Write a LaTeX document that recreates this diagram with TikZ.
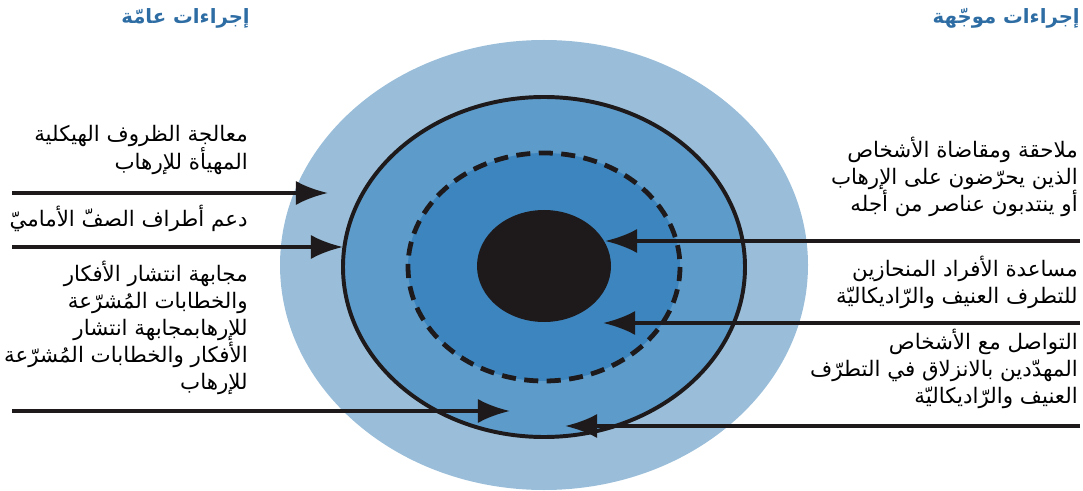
\documentclass[tikz,border=0pt]{standalone}
\usepackage{fontspec}
\newfontfamily\arabicfont[Script=Arabic]{DejaVu Sans}
\TeXXeTstate=1
\usetikzlibrary{arrows.meta}

\definecolor{ringouter}{HTML}{9ABED9}
\definecolor{ringmiddle}{HTML}{5D9BCB}
\definecolor{ringinner}{HTML}{3D85BF}
\definecolor{titleblue}{HTML}{2E6DA4}
\definecolor{inkblack}{HTML}{1E1A1B}

\begin{document}
\begin{tikzpicture}[
    x=0.025cm, y=-0.025cm,
    ring_outer/.style={fill=ringouter},
    ring_middle/.style={fill=ringmiddle, draw=inkblack, line width=2.8pt},
    ring_inner/.style={fill=ringinner, draw=inkblack, line width=3.4pt, dash pattern=on 10pt off 6pt},
    core/.style={fill=inkblack},
    push/.style={draw=inkblack, line width=2.8pt, -{Latex[length=8mm, width=6mm]}},
    txt/.style={font=\arabicfont\fontsize{15.2}{19.3}\selectfont, align=right, anchor=east, inner sep=0pt},
    head/.style={font=\arabicfont\bfseries\fontsize{14}{16}\selectfont, text=titleblue, anchor=east, inner sep=0pt}
]
\useasboundingbox (0,0) rectangle (1083,491);

% --- Anillos ---
\fill[ring_outer] (544,265) ellipse [x radius=264, y radius=225];
\draw[ring_middle] (544,267) ellipse [x radius=201, y radius=170];
\draw[ring_inner] (544,267) ellipse [x radius=136, y radius=114];
\fill[core] (544,266) ellipse [x radius=67, y radius=56];

% --- Titulos ---
\node[head] (generalhead) at (250,18) {\beginR إجراءات عامّة\endR};
\node[head] (targethead) at (1080,18) {\beginR إجراءات موجّهة\endR};

% --- Textos izquierda ---
\node[txt] (structural) at (248,150) {\beginR معالجة الظروف الهيكلية\endR\\\beginR المهيأة للإرهاب\endR};
\node[txt] (frontline) at (248,218) {\beginR دعم أطراف الصفّ الأماميّ\endR};
\node[txt] (counterspeech) at (248,328) {\beginR مجابهة انتشار الأفكار\endR\\\beginR والخطابات المُشرّعة\endR\\\beginR للإرهابمجابهة انتشار\endR\\\beginR الأفكار والخطابات المُشرّعة\endR\\\beginR للإرهاب\endR};

% --- Textos derecha ---
\node[txt] (prosecute) at (1078,177) {\beginR ملاحقة ومقاضاة الأشخاص\endR\\\beginR الذين يحرّضون على الإرهاب\endR\\\beginR أو ينتدبون عناصر من أجله\endR};
\node[txt] (assist) at (1078,282) {\beginR مساعدة الأفراد المنحازين\endR\\\beginR للتطرف العنيف والرّاديكاليّة\endR};
\node[txt] (outreach) at (1078,369) {\beginR التواصل مع الأشخاص\endR\\\beginR المهدّدين بالانزلاق في التطرّف\endR\\\beginR العنيف والرّاديكاليّة\endR};

% --- Flechas izquierda ---
\coordinate (structural_from) at (12,193);
\coordinate (structural_to) at (328,193);
\coordinate (frontline_from) at (12,247);
\coordinate (frontline_to) at (343,247);
\coordinate (counterspeech_from) at (12,411);
\coordinate (counterspeech_to) at (510,411);
\draw[push] (structural_from) -- (structural_to);
\draw[push] (frontline_from) -- (frontline_to);
\draw[push] (counterspeech_from) -- (counterspeech_to);

% --- Flechas derecha ---
\coordinate (prosecute_from) at (1080,241);
\coordinate (prosecute_to) at (605,241);
\coordinate (assist_from) at (1080,323);
\coordinate (assist_to) at (603,323);
\coordinate (outreach_from) at (1080,426);
\coordinate (outreach_to) at (565,426);
\draw[push] (prosecute_from) -- (prosecute_to);
\draw[push] (assist_from) -- (assist_to);
\draw[push] (outreach_from) -- (outreach_to);

\end{tikzpicture}
\end{document}
